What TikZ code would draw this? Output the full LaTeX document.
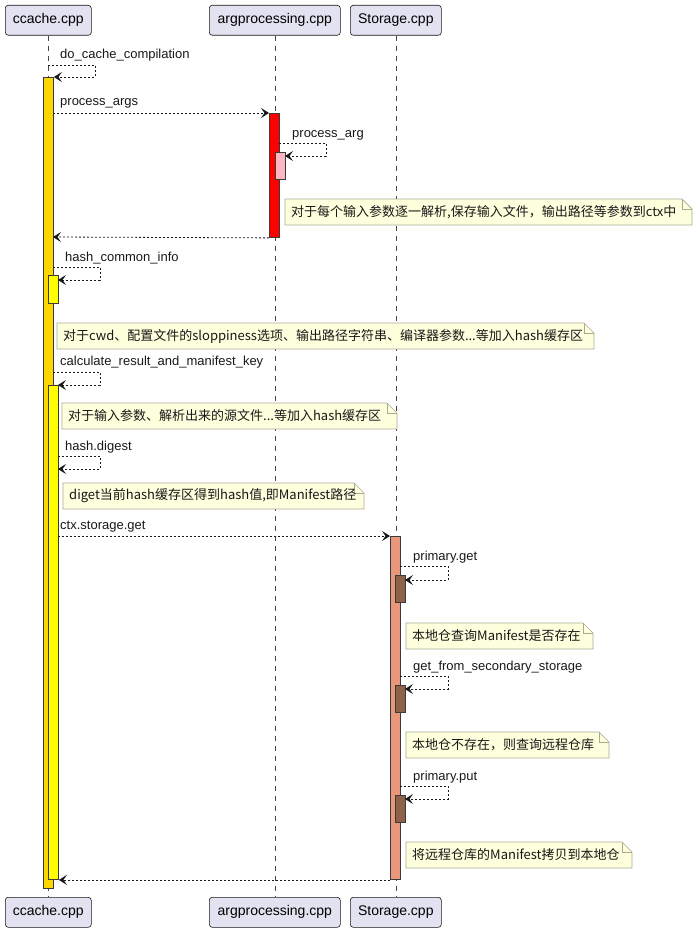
\documentclass[tikz,border=0pt]{standalone}
\usepackage{fontspec}
\setmainfont{Liberation Sans}
\newfontfamily\cjk{Noto Sans CJK SC}
\usetikzlibrary{arrows.meta}
\definecolor{partfill}{HTML}{E2E2F0}
\definecolor{edge}{HTML}{181818}
\definecolor{actedge}{HTML}{3A3A3A}
\definecolor{notefill}{HTML}{FEFFDD}
\definecolor{noteedge}{HTML}{A9A994}
\definecolor{actgold}{HTML}{FFD700}
\definecolor{actyellow}{HTML}{FFFF00}
\definecolor{actred}{HTML}{FF0000}
\definecolor{actpink}{HTML}{FFB6C1}
\definecolor{actsalmon}{HTML}{E9967A}
\definecolor{actbrown}{HTML}{8F6148}
\pgfdeclarelayer{lines}
\pgfdeclarelayer{notebg}
\pgfsetlayers{lines,notebg,main}
\newcommand\mynote[5]{%
  \node[notetext] (#1) at ({#2+6},{#3+13}) {#5};
  \begin{pgfonlayer}{notebg}
    \filldraw[noteshape] (#2,#3) -- ({#2+#4-10},#3) -- ({#2+#4},{#3+10}) -- ({#2+#4},{#3+26}) -- (#2,{#3+26}) -- cycle;
    \draw[noteshape,fill=none] ({#2+#4-10},#3) -- ({#2+#4-10},{#3+10}) -- ({#2+#4},{#3+10});
  \end{pgfonlayer}}
\begin{document}
\begin{tikzpicture}[x=1pt,y=-1pt,
  participant/.style={draw=edge,fill=partfill,rounded corners=3pt,line width=0.6pt,
    minimum height=30pt,inner sep=0pt,anchor=north west,font=\fontsize{14}{16}\selectfont},
  lifeline/.style={draw=edge!80,line width=0.5pt,dash pattern=on 5pt off 5pt},
  act/.style={draw=actedge,line width=0.9pt,inner sep=0pt,anchor=north west,minimum width=10pt},
  msg/.style={draw=edge,line width=0.8pt,dash pattern=on 2pt off 2pt,
    -{Stealth[length=8pt,width=10pt,inset=3.5pt]}},
  msglabel/.style={anchor=west,inner sep=0pt,font=\fontsize{13}{15}\selectfont,text=edge},
  notetext/.style={anchor=west,inner sep=0pt,font=\cjk\fontsize{13}{15}\selectfont,text=edge},
  noteshape/.style={draw=noteedge,fill=notefill,line width=0.7pt}]
\useasboundingbox (0,0) rectangle (699,934);
% participants
\node[participant,minimum width=86pt] (p1t) at (5,5) {ccache.cpp};
\node[participant,minimum width=131pt] (p2t) at (209,5) {argprocessing.cpp};
\node[participant,minimum width=91pt] (p3t) at (350,5) {Storage.cpp};
\node[participant,minimum width=86pt] (p1b) at (5,897) {ccache.cpp};
\node[participant,minimum width=131pt] (p2b) at (209,897) {argprocessing.cpp};
\node[participant,minimum width=91pt] (p3b) at (350,897) {Storage.cpp};
\begin{pgfonlayer}{lines}
\draw[lifeline] (p1t.south) -- (p1b.north);
\draw[lifeline] (p2t.south) -- (p2b.north);
\draw[lifeline] (p3t.south) -- (p3b.north);
\end{pgfonlayer}
% activations
\node[act,fill=actgold,minimum height=811pt] (a1) at (43,77) {};
\node[act,fill=actyellow,minimum height=28pt] (a2) at (48,275) {};
\node[act,fill=actyellow,minimum height=494pt] (a3) at (48,385) {};
\node[act,fill=actred,minimum height=124pt] (r1) at (269,113) {};
\node[act,fill=actpink,minimum height=27pt] (r2) at (275,152) {};
\node[act,fill=actsalmon,minimum height=343pt] (s1) at (390,536) {};
\node[act,fill=actbrown,minimum height=27pt] (b1) at (395,575) {};
\node[act,fill=actbrown,minimum height=27pt] (b2) at (395,685) {};
\node[act,fill=actbrown,minimum height=27pt] (b3) at (395,795) {};
% messages
\draw[msg] (48,65) -- (95,65) -- (95,77) -- (a1.north east);
\node[msglabel] (l1) at (60,55) {do\_cache\_compilation};
\draw[msg] (53,113) -- (r1.north west);
\node[msglabel] (l2) at (60,103) {process\_args};
\draw[msg] (279,143) -- (326,143) -- (326,156) -- (285,156);
\node[msglabel] (l3) at (292,135) {process\_arg};
\mynote{n1}{285}{199}{407}{对于每个输入参数逐一解析,保存输入文件，输出路径等参数到ctx中}
\draw[msg] (r1.south west) -- (53,237);
\draw[msg] (53,267) -- (100,267) -- (100,280) -- (58,280);
\node[msglabel] (l4) at (65,258) {hash\_common\_info};
\mynote{n2}{57}{323}{537}{对于cwd、配置文件的sloppiness选项、输出路径字符串、编译器参数...等加入hash缓存区}
\draw[msg] (53,372) -- (100,372) -- (100,385) -- (58,385);
\node[msglabel] (l5) at (60,362) {calculate\_result\_and\_manifest\_key};
\mynote{n3}{62}{403}{335}{对于输入参数、解析出来的源文件...等加入hash缓存区}
\draw[msg] (58,456) -- (100,456) -- (100,469) -- (58,469);
\node[msglabel] (l6) at (65,447) {hash.digest};
\mynote{n4}{63}{483}{301}{diget当前hash缓存区得到hash值,即Manifest路径}
\draw[msg] (58,536) -- (s1.north west);
\node[msglabel] (l7) at (60,527) {ctx.storage.get};
\draw[msg] (400,566) -- (448,566) -- (448,580) -- (405,580);
\node[msglabel] (l8) at (413,557) {primary.get};
\mynote{n5}{406}{623}{187}{本地仓查询Manifest是否存在}
\draw[msg] (400,676) -- (448,676) -- (448,689) -- (405,689);
\node[msglabel] (l9) at (413,667) {get\_from\_secondary\_storage};
\mynote{n6}{406}{732}{203}{本地仓不存在，则查询远程仓库}
\draw[msg] (400,786) -- (448,786) -- (448,799) -- (405,799);
\node[msglabel] (l10) at (413,777) {primary.put};
\mynote{n7}{406}{842}{226}{将远程仓库的Manifest拷贝到本地仓}
\draw[msg] (s1.south west) -- (a3.south east);
\end{tikzpicture}
\end{document}
